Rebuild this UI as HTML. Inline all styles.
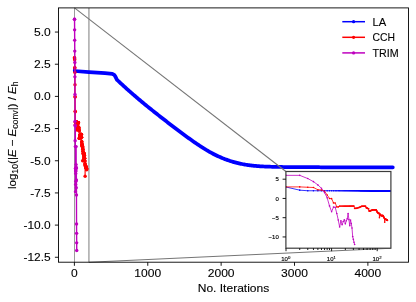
<!DOCTYPE html>
<html><head><meta charset="utf-8"><title>Convergence</title>
<style>
html,body{margin:0;padding:0;background:#fff}
body{width:416px;height:302px;overflow:hidden}
svg{will-change:transform}
svg text{font-family:"Liberation Sans",sans-serif;fill:#000}
.t{font-size:10.7px}
.lg{font-size:10.1px}
.yl{font-size:11px}
.t,.lg{stroke:#000;stroke-width:0.1px}
.s{font-size:8.4px}
.i{font-size:6px;stroke:#000;stroke-width:0.15px}
</style></head><body>
<svg width="416" height="302" viewBox="0 0 416 302" style="display:block">
<rect width="100%" height="100%" fill="#fff"/>
<defs><clipPath id="mc"><rect x="58.50" y="7.90" width="350.00" height="254.30"/></clipPath><clipPath id="ic"><rect x="285.90" y="171.50" width="105.00" height="76.70"/></clipPath></defs>
<line x1="74.50" y1="7.90" x2="74.50" y2="262.20" stroke="#808080" stroke-width="0.8"/>
<line x1="88.90" y1="7.90" x2="88.90" y2="262.20" stroke="#a8a8a8" stroke-width="1.5"/>
<g clip-path="url(#mc)">
<path d="M74.50 58.20 L74.55 69.00 L74.70 71.00" fill="none" stroke="#0000ff" stroke-width="1.1"/>
<circle cx="74.50" cy="58.20" r="1.50" fill="#0000ff"/><circle cx="74.55" cy="69.00" r="1.50" fill="#0000ff"/>
<path d="M74.70 71.00 L89.00 72.10 L105.00 73.20 L112.30 73.80 L114.20 74.80 L115.40 76.60 L117.00 79.80 L118.00 80.75 L119.00 81.69 L120.00 82.63 L121.00 83.56 L122.00 84.48 L123.00 85.40 L124.00 86.32 L125.00 87.23 L126.00 88.13 L127.00 89.03 L128.00 89.92 L129.00 90.81 L130.00 91.69 L131.00 92.57 L132.00 93.45 L133.00 94.32 L134.00 95.18 L135.00 96.04 L136.00 96.90 L137.00 97.76 L138.00 98.61 L139.00 99.45 L140.00 100.29 L141.00 101.13 L142.00 101.97 L143.00 102.80 L144.00 103.62 L145.00 104.44 L146.00 105.26 L147.00 106.08 L148.00 106.89 L149.00 107.69 L150.00 108.49 L151.00 109.29 L152.00 110.09 L153.00 110.89 L154.00 111.68 L155.00 112.48 L156.00 113.27 L157.00 114.06 L158.00 114.85 L159.00 115.63 L160.00 116.42 L161.00 117.20 L162.00 117.99 L163.00 118.77 L164.00 119.55 L165.00 120.33 L166.00 121.10 L167.00 121.88 L168.00 122.65 L169.00 123.42 L170.00 124.19 L171.00 124.96 L172.00 125.73 L173.00 126.49 L174.00 127.25 L175.00 128.01 L176.00 128.77 L177.00 129.52 L178.00 130.27 L179.00 131.02 L180.00 131.77 L181.00 132.51 L182.00 133.25 L183.00 133.99 L184.00 134.73 L185.00 135.46 L186.00 136.19 L187.00 136.92 L188.00 137.65 L189.00 138.37 L190.00 139.09 L191.00 139.81 L192.00 140.52 L193.00 141.22 L194.00 141.92 L195.00 142.61 L196.00 143.29 L197.00 143.97 L198.00 144.64 L199.00 145.30 L200.00 145.96 L201.00 146.61 L202.00 147.25 L203.00 147.89 L204.00 148.52 L205.00 149.14 L206.00 149.76 L207.00 150.36 L208.00 150.95 L209.00 151.53 L210.00 152.09 L211.00 152.65 L212.00 153.19 L213.00 153.72 L214.00 154.24 L215.00 154.74 L216.00 155.24 L217.00 155.72 L218.00 156.19 L219.00 156.65 L220.00 157.09 L221.00 157.53 L222.00 157.95 L223.00 158.36 L224.00 158.76 L225.00 159.14 L226.00 159.52 L227.00 159.88 L228.00 160.24 L229.00 160.58 L230.00 160.91 L231.00 161.23 L232.00 161.54 L233.00 161.83 L234.00 162.12 L235.00 162.39 L236.00 162.66 L237.00 162.91 L238.00 163.16 L239.00 163.39 L240.00 163.62 L241.00 163.83 L242.00 164.04 L243.00 164.23 L244.00 164.42 L245.00 164.59 L246.00 164.76 L247.00 164.92 L248.00 165.07 L249.00 165.21 L250.00 165.34 L251.00 165.47 L252.00 165.59 L253.00 165.70 L254.00 165.80 L255.00 165.89 L256.00 165.98 L257.00 166.06 L258.00 166.14 L259.00 166.21 L260.00 166.28 L261.00 166.34 L262.00 166.40 L263.00 166.45 L264.00 166.50 L265.00 166.54 L266.00 166.58 L267.00 166.62 L268.00 166.66 L269.00 166.69 L270.00 166.72 L271.00 166.75 L272.00 166.78 L273.00 166.81 L274.00 166.84 L275.00 166.86 L276.00 166.88 L277.00 166.90 L278.00 166.92 L279.00 166.94 L280.00 166.96 L281.00 166.97 L282.00 166.99 L283.00 167.00 L284.00 167.01 L285.00 167.03 L286.00 167.04 L287.00 167.05 L288.00 167.06 L289.00 167.07 L290.00 167.08 L291.00 167.09 L292.00 167.10 L293.00 167.11 L294.00 167.12 L295.00 167.13 L296.00 167.13 L297.00 167.14 L298.00 167.15 L299.00 167.15 L300.00 167.16 L301.00 167.16 L302.00 167.17 L303.00 167.17 L304.00 167.18 L305.00 167.18 L306.00 167.19 L307.00 167.19 L308.00 167.20 L309.00 167.20 L310.00 167.20 L311.00 167.21 L312.00 167.21 L313.00 167.22 L314.00 167.22 L315.00 167.23 L316.00 167.23 L317.00 167.23 L318.00 167.24 L319.00 167.24 L320.00 167.25 L321.00 167.25 L322.00 167.25 L323.00 167.26 L324.00 167.26 L325.00 167.27 L326.00 167.27 L327.00 167.27 L328.00 167.28 L329.00 167.28 L330.00 167.28 L331.00 167.29 L332.00 167.29 L333.00 167.29 L334.00 167.30 L335.00 167.30 L336.00 167.30 L337.00 167.30 L338.00 167.30 L339.00 167.30 L340.00 167.30 L341.00 167.30 L342.00 167.30 L343.00 167.30 L344.00 167.30 L345.00 167.30 L346.00 167.30 L347.00 167.30 L348.00 167.30 L349.00 167.30 L350.00 167.30 L351.00 167.30 L352.00 167.30 L353.00 167.30 L354.00 167.30 L355.00 167.30 L356.00 167.30 L357.00 167.30 L358.00 167.30 L359.00 167.30 L360.00 167.30 L361.00 167.30 L362.00 167.30 L363.00 167.30 L364.00 167.30 L365.00 167.30 L366.00 167.30 L367.00 167.30 L368.00 167.30 L369.00 167.30 L370.00 167.30 L371.00 167.30 L372.00 167.30 L373.00 167.30 L374.00 167.30 L375.00 167.30 L376.00 167.30 L377.00 167.30 L378.00 167.30 L379.00 167.30 L380.00 167.30 L381.00 167.30 L382.00 167.30 L383.00 167.30 L384.00 167.30 L385.00 167.30 L386.00 167.30 L387.00 167.30 L388.00 167.30 L389.00 167.30 L390.00 167.30 L391.00 167.30 L392.00 167.30 L392.80 167.30" fill="none" stroke="#0000ff" stroke-width="3.75" stroke-linecap="round" stroke-linejoin="round"/>
<path d="M74.47 57.79 L74.55 57.79 L74.62 59.08 L74.69 59.72 L74.77 67.44 L74.84 68.09 L74.91 72.46 L74.99 84.82 L75.06 96.79 L75.13 97.04 L75.21 111.20 L75.28 111.84 L75.35 124.71 L75.43 124.71 L75.50 122.14 L75.57 122.13 L75.65 122.12 L75.72 122.12 L75.79 122.11 L75.87 122.10 L75.94 122.09 L76.01 122.08 L76.09 122.08 L76.16 122.07 L76.23 122.06 L76.31 122.05 L76.38 122.04 L76.45 122.04 L76.53 122.03 L76.60 122.02 L76.67 122.01 L76.75 129.86 L76.82 129.54 L76.89 129.54 L76.97 129.54 L77.04 128.57 L77.11 128.57 L77.19 128.57 L77.26 126.64 L77.33 126.64 L77.41 126.64 L77.48 124.46 L77.55 124.46 L77.63 124.46 L77.70 122.65 L77.78 122.65 L77.85 122.65 L77.92 122.65 L78.00 122.65 L78.07 122.65 L78.14 122.65 L78.22 122.65 L78.29 122.65 L78.36 122.65 L78.44 122.65 L78.51 122.65 L78.58 127.29 L78.66 127.29 L78.73 127.29 L78.80 129.03 L78.88 129.03 L78.95 129.03 L79.02 130.76 L79.10 130.76 L79.17 130.76 L79.24 138.41 L79.32 138.41 L79.39 138.41 L79.46 137.79 L79.54 137.79 L79.61 137.79 L79.68 136.94 L79.76 136.94 L79.83 136.94 L79.90 135.98 L79.98 135.98 L80.05 135.98 L80.12 135.01 L80.20 135.01 L80.27 135.01 L80.34 134.37 L80.42 134.37 L80.49 134.37 L80.56 134.37 L80.64 134.37 L80.71 134.37 L80.78 134.37 L80.86 134.37 L80.93 134.37 L81.00 134.37 L81.08 134.37 L81.15 134.37 L81.22 134.37 L81.30 134.37 L81.37 134.37 L81.44 137.28 L81.52 137.28 L81.59 137.28 L81.66 141.66 L81.74 141.66 L81.81 141.66 L81.88 143.93 L81.96 143.93 L82.03 143.93 L82.10 145.15 L82.18 145.15 L82.25 145.15 L82.32 146.37 L82.40 146.37 L82.47 146.37 L82.54 147.58 L82.62 160.75 L82.69 147.58 L82.76 149.17 L82.84 149.17 L82.91 149.17 L82.98 151.48 L83.06 151.48 L83.13 151.48 L83.20 153.80 L83.28 153.80 L83.35 153.80 L83.42 153.80 L83.50 153.80 L83.57 153.80 L83.64 153.80 L83.72 153.80 L83.79 153.80 L83.86 153.80 L83.94 153.80 L84.01 153.80 L84.08 153.80 L84.16 153.80 L84.23 153.80 L84.30 155.60 L84.38 155.60 L84.45 155.60 L84.53 158.30 L84.60 158.30 L84.67 158.30 L84.75 161.01 L84.82 161.01 L84.89 161.01 L84.97 163.71 L85.04 163.71 L85.11 176.19 L85.19 165.03 L85.26 165.03 L85.33 165.03 L85.41 165.66 L85.48 165.66 L85.55 165.66 L85.63 166.28 L85.70 166.28 L85.77 166.28 L85.85 166.91 L85.92 166.91 L85.99 166.91 L86.07 167.54 L86.14 167.54 L86.21 167.54 L86.29 168.21 L86.36 168.21 L86.43 168.21 L86.51 168.99 L86.58 168.99 L86.65 168.99 L86.73 169.76" fill="none" stroke="#ff0000" stroke-width="1.1" stroke-linejoin="round"/>
<circle cx="74.47" cy="57.79" r="1.70" fill="#ff0000"/><circle cx="74.55" cy="57.79" r="1.70" fill="#ff0000"/><circle cx="74.62" cy="59.08" r="1.70" fill="#ff0000"/><circle cx="74.69" cy="59.72" r="1.70" fill="#ff0000"/><circle cx="74.77" cy="67.44" r="1.70" fill="#ff0000"/><circle cx="74.84" cy="68.09" r="1.70" fill="#ff0000"/><circle cx="74.91" cy="72.46" r="1.70" fill="#ff0000"/><circle cx="74.99" cy="84.82" r="1.70" fill="#ff0000"/><circle cx="75.06" cy="96.79" r="1.70" fill="#ff0000"/><circle cx="75.13" cy="97.04" r="1.70" fill="#ff0000"/><circle cx="75.21" cy="111.20" r="1.70" fill="#ff0000"/><circle cx="75.28" cy="111.84" r="1.70" fill="#ff0000"/><circle cx="75.35" cy="124.71" r="1.70" fill="#ff0000"/><circle cx="75.43" cy="124.71" r="1.70" fill="#ff0000"/><circle cx="75.50" cy="122.14" r="1.70" fill="#ff0000"/><circle cx="75.57" cy="122.13" r="1.70" fill="#ff0000"/><circle cx="75.65" cy="122.12" r="1.70" fill="#ff0000"/><circle cx="75.72" cy="122.12" r="1.70" fill="#ff0000"/><circle cx="75.79" cy="122.11" r="1.70" fill="#ff0000"/><circle cx="75.87" cy="122.10" r="1.70" fill="#ff0000"/><circle cx="75.94" cy="122.09" r="1.70" fill="#ff0000"/><circle cx="76.01" cy="122.08" r="1.70" fill="#ff0000"/><circle cx="76.09" cy="122.08" r="1.70" fill="#ff0000"/><circle cx="76.16" cy="122.07" r="1.70" fill="#ff0000"/><circle cx="76.23" cy="122.06" r="1.70" fill="#ff0000"/><circle cx="76.31" cy="122.05" r="1.70" fill="#ff0000"/><circle cx="76.38" cy="122.04" r="1.70" fill="#ff0000"/><circle cx="76.45" cy="122.04" r="1.70" fill="#ff0000"/><circle cx="76.53" cy="122.03" r="1.70" fill="#ff0000"/><circle cx="76.60" cy="122.02" r="1.70" fill="#ff0000"/><circle cx="76.67" cy="122.01" r="1.70" fill="#ff0000"/><circle cx="76.75" cy="129.86" r="1.70" fill="#ff0000"/><circle cx="76.82" cy="129.54" r="1.70" fill="#ff0000"/><circle cx="76.89" cy="129.54" r="1.70" fill="#ff0000"/><circle cx="76.97" cy="129.54" r="1.70" fill="#ff0000"/><circle cx="77.04" cy="128.57" r="1.70" fill="#ff0000"/><circle cx="77.11" cy="128.57" r="1.70" fill="#ff0000"/><circle cx="77.19" cy="128.57" r="1.70" fill="#ff0000"/><circle cx="77.26" cy="126.64" r="1.70" fill="#ff0000"/><circle cx="77.33" cy="126.64" r="1.70" fill="#ff0000"/><circle cx="77.41" cy="126.64" r="1.70" fill="#ff0000"/><circle cx="77.48" cy="124.46" r="1.70" fill="#ff0000"/><circle cx="77.55" cy="124.46" r="1.70" fill="#ff0000"/><circle cx="77.63" cy="124.46" r="1.70" fill="#ff0000"/><circle cx="77.70" cy="122.65" r="1.70" fill="#ff0000"/><circle cx="77.78" cy="122.65" r="1.70" fill="#ff0000"/><circle cx="77.85" cy="122.65" r="1.70" fill="#ff0000"/><circle cx="77.92" cy="122.65" r="1.70" fill="#ff0000"/><circle cx="78.00" cy="122.65" r="1.70" fill="#ff0000"/><circle cx="78.07" cy="122.65" r="1.70" fill="#ff0000"/><circle cx="78.14" cy="122.65" r="1.70" fill="#ff0000"/><circle cx="78.22" cy="122.65" r="1.70" fill="#ff0000"/><circle cx="78.29" cy="122.65" r="1.70" fill="#ff0000"/><circle cx="78.36" cy="122.65" r="1.70" fill="#ff0000"/><circle cx="78.44" cy="122.65" r="1.70" fill="#ff0000"/><circle cx="78.51" cy="122.65" r="1.70" fill="#ff0000"/><circle cx="78.58" cy="127.29" r="1.70" fill="#ff0000"/><circle cx="78.66" cy="127.29" r="1.70" fill="#ff0000"/><circle cx="78.73" cy="127.29" r="1.70" fill="#ff0000"/><circle cx="78.80" cy="129.03" r="1.70" fill="#ff0000"/><circle cx="78.88" cy="129.03" r="1.70" fill="#ff0000"/><circle cx="78.95" cy="129.03" r="1.70" fill="#ff0000"/><circle cx="79.02" cy="130.76" r="1.70" fill="#ff0000"/><circle cx="79.10" cy="130.76" r="1.70" fill="#ff0000"/><circle cx="79.17" cy="130.76" r="1.70" fill="#ff0000"/><circle cx="79.24" cy="138.41" r="1.70" fill="#ff0000"/><circle cx="79.32" cy="138.41" r="1.70" fill="#ff0000"/><circle cx="79.39" cy="138.41" r="1.70" fill="#ff0000"/><circle cx="79.46" cy="137.79" r="1.70" fill="#ff0000"/><circle cx="79.54" cy="137.79" r="1.70" fill="#ff0000"/><circle cx="79.61" cy="137.79" r="1.70" fill="#ff0000"/><circle cx="79.68" cy="136.94" r="1.70" fill="#ff0000"/><circle cx="79.76" cy="136.94" r="1.70" fill="#ff0000"/><circle cx="79.83" cy="136.94" r="1.70" fill="#ff0000"/><circle cx="79.90" cy="135.98" r="1.70" fill="#ff0000"/><circle cx="79.98" cy="135.98" r="1.70" fill="#ff0000"/><circle cx="80.05" cy="135.98" r="1.70" fill="#ff0000"/><circle cx="80.12" cy="135.01" r="1.70" fill="#ff0000"/><circle cx="80.20" cy="135.01" r="1.70" fill="#ff0000"/><circle cx="80.27" cy="135.01" r="1.70" fill="#ff0000"/><circle cx="80.34" cy="134.37" r="1.70" fill="#ff0000"/><circle cx="80.42" cy="134.37" r="1.70" fill="#ff0000"/><circle cx="80.49" cy="134.37" r="1.70" fill="#ff0000"/><circle cx="80.56" cy="134.37" r="1.70" fill="#ff0000"/><circle cx="80.64" cy="134.37" r="1.70" fill="#ff0000"/><circle cx="80.71" cy="134.37" r="1.70" fill="#ff0000"/><circle cx="80.78" cy="134.37" r="1.70" fill="#ff0000"/><circle cx="80.86" cy="134.37" r="1.70" fill="#ff0000"/><circle cx="80.93" cy="134.37" r="1.70" fill="#ff0000"/><circle cx="81.00" cy="134.37" r="1.70" fill="#ff0000"/><circle cx="81.08" cy="134.37" r="1.70" fill="#ff0000"/><circle cx="81.15" cy="134.37" r="1.70" fill="#ff0000"/><circle cx="81.22" cy="134.37" r="1.70" fill="#ff0000"/><circle cx="81.30" cy="134.37" r="1.70" fill="#ff0000"/><circle cx="81.37" cy="134.37" r="1.70" fill="#ff0000"/><circle cx="81.44" cy="137.28" r="1.70" fill="#ff0000"/><circle cx="81.52" cy="137.28" r="1.70" fill="#ff0000"/><circle cx="81.59" cy="137.28" r="1.70" fill="#ff0000"/><circle cx="81.66" cy="141.66" r="1.70" fill="#ff0000"/><circle cx="81.74" cy="141.66" r="1.70" fill="#ff0000"/><circle cx="81.81" cy="141.66" r="1.70" fill="#ff0000"/><circle cx="81.88" cy="143.93" r="1.70" fill="#ff0000"/><circle cx="81.96" cy="143.93" r="1.70" fill="#ff0000"/><circle cx="82.03" cy="143.93" r="1.70" fill="#ff0000"/><circle cx="82.10" cy="145.15" r="1.70" fill="#ff0000"/><circle cx="82.18" cy="145.15" r="1.70" fill="#ff0000"/><circle cx="82.25" cy="145.15" r="1.70" fill="#ff0000"/><circle cx="82.32" cy="146.37" r="1.70" fill="#ff0000"/><circle cx="82.40" cy="146.37" r="1.70" fill="#ff0000"/><circle cx="82.47" cy="146.37" r="1.70" fill="#ff0000"/><circle cx="82.54" cy="147.58" r="1.70" fill="#ff0000"/><circle cx="82.62" cy="160.75" r="1.70" fill="#ff0000"/><circle cx="82.69" cy="147.58" r="1.70" fill="#ff0000"/><circle cx="82.76" cy="149.17" r="1.70" fill="#ff0000"/><circle cx="82.84" cy="149.17" r="1.70" fill="#ff0000"/><circle cx="82.91" cy="149.17" r="1.70" fill="#ff0000"/><circle cx="82.98" cy="151.48" r="1.70" fill="#ff0000"/><circle cx="83.06" cy="151.48" r="1.70" fill="#ff0000"/><circle cx="83.13" cy="151.48" r="1.70" fill="#ff0000"/><circle cx="83.20" cy="153.80" r="1.70" fill="#ff0000"/><circle cx="83.28" cy="153.80" r="1.70" fill="#ff0000"/><circle cx="83.35" cy="153.80" r="1.70" fill="#ff0000"/><circle cx="83.42" cy="153.80" r="1.70" fill="#ff0000"/><circle cx="83.50" cy="153.80" r="1.70" fill="#ff0000"/><circle cx="83.57" cy="153.80" r="1.70" fill="#ff0000"/><circle cx="83.64" cy="153.80" r="1.70" fill="#ff0000"/><circle cx="83.72" cy="153.80" r="1.70" fill="#ff0000"/><circle cx="83.79" cy="153.80" r="1.70" fill="#ff0000"/><circle cx="83.86" cy="153.80" r="1.70" fill="#ff0000"/><circle cx="83.94" cy="153.80" r="1.70" fill="#ff0000"/><circle cx="84.01" cy="153.80" r="1.70" fill="#ff0000"/><circle cx="84.08" cy="153.80" r="1.70" fill="#ff0000"/><circle cx="84.16" cy="153.80" r="1.70" fill="#ff0000"/><circle cx="84.23" cy="153.80" r="1.70" fill="#ff0000"/><circle cx="84.30" cy="155.60" r="1.70" fill="#ff0000"/><circle cx="84.38" cy="155.60" r="1.70" fill="#ff0000"/><circle cx="84.45" cy="155.60" r="1.70" fill="#ff0000"/><circle cx="84.53" cy="158.30" r="1.70" fill="#ff0000"/><circle cx="84.60" cy="158.30" r="1.70" fill="#ff0000"/><circle cx="84.67" cy="158.30" r="1.70" fill="#ff0000"/><circle cx="84.75" cy="161.01" r="1.70" fill="#ff0000"/><circle cx="84.82" cy="161.01" r="1.70" fill="#ff0000"/><circle cx="84.89" cy="161.01" r="1.70" fill="#ff0000"/><circle cx="84.97" cy="163.71" r="1.70" fill="#ff0000"/><circle cx="85.04" cy="163.71" r="1.70" fill="#ff0000"/><circle cx="85.11" cy="176.19" r="1.70" fill="#ff0000"/><circle cx="85.19" cy="165.03" r="1.70" fill="#ff0000"/><circle cx="85.26" cy="165.03" r="1.70" fill="#ff0000"/><circle cx="85.33" cy="165.03" r="1.70" fill="#ff0000"/><circle cx="85.41" cy="165.66" r="1.70" fill="#ff0000"/><circle cx="85.48" cy="165.66" r="1.70" fill="#ff0000"/><circle cx="85.55" cy="165.66" r="1.70" fill="#ff0000"/><circle cx="85.63" cy="166.28" r="1.70" fill="#ff0000"/><circle cx="85.70" cy="166.28" r="1.70" fill="#ff0000"/><circle cx="85.77" cy="166.28" r="1.70" fill="#ff0000"/><circle cx="85.85" cy="166.91" r="1.70" fill="#ff0000"/><circle cx="85.92" cy="166.91" r="1.70" fill="#ff0000"/><circle cx="85.99" cy="166.91" r="1.70" fill="#ff0000"/><circle cx="86.07" cy="167.54" r="1.70" fill="#ff0000"/><circle cx="86.14" cy="167.54" r="1.70" fill="#ff0000"/><circle cx="86.21" cy="167.54" r="1.70" fill="#ff0000"/><circle cx="86.29" cy="168.21" r="1.70" fill="#ff0000"/><circle cx="86.36" cy="168.21" r="1.70" fill="#ff0000"/><circle cx="86.43" cy="168.21" r="1.70" fill="#ff0000"/><circle cx="86.51" cy="168.99" r="1.70" fill="#ff0000"/><circle cx="86.58" cy="168.99" r="1.70" fill="#ff0000"/><circle cx="86.65" cy="168.99" r="1.70" fill="#ff0000"/><circle cx="86.73" cy="169.76" r="1.70" fill="#ff0000"/>
<path d="M74.47 19.18 L74.55 19.18 L74.62 29.86 L74.69 40.16 L74.77 51.10 L74.84 62.55 L74.91 76.84 L74.99 94.47 L75.06 121.37 L75.13 140.80 L75.21 125.36 L75.28 126.00 L75.35 146.59 L75.43 168.47 L75.50 191.64 L75.57 171.05 L75.65 184.56 L75.72 173.62 L75.79 167.83 L75.87 181.34 L75.94 171.05 L76.01 164.61 L76.09 146.59 L76.16 167.19 L76.23 187.78 L76.31 168.47 L76.38 180.06 L76.45 194.98 L76.53 223.94 L76.60 233.34 L76.67 242.86 L76.75 250.45" fill="none" stroke="#bf00bf" stroke-width="1.4" stroke-linejoin="round"/>
<circle cx="74.47" cy="19.18" r="1.70" fill="#bf00bf"/><circle cx="74.55" cy="19.18" r="1.70" fill="#bf00bf"/><circle cx="74.62" cy="29.86" r="1.70" fill="#bf00bf"/><circle cx="74.69" cy="40.16" r="1.70" fill="#bf00bf"/><circle cx="74.77" cy="51.10" r="1.70" fill="#bf00bf"/><circle cx="74.84" cy="62.55" r="1.70" fill="#bf00bf"/><circle cx="74.91" cy="76.84" r="1.70" fill="#bf00bf"/><circle cx="74.99" cy="94.47" r="1.70" fill="#bf00bf"/><circle cx="75.06" cy="121.37" r="1.70" fill="#bf00bf"/><circle cx="75.13" cy="140.80" r="1.70" fill="#bf00bf"/><circle cx="75.21" cy="125.36" r="1.70" fill="#bf00bf"/><circle cx="75.28" cy="126.00" r="1.70" fill="#bf00bf"/><circle cx="75.35" cy="146.59" r="1.70" fill="#bf00bf"/><circle cx="75.43" cy="168.47" r="1.70" fill="#bf00bf"/><circle cx="75.50" cy="191.64" r="1.70" fill="#bf00bf"/><circle cx="75.57" cy="171.05" r="1.70" fill="#bf00bf"/><circle cx="75.65" cy="184.56" r="1.70" fill="#bf00bf"/><circle cx="75.72" cy="173.62" r="1.70" fill="#bf00bf"/><circle cx="75.79" cy="167.83" r="1.70" fill="#bf00bf"/><circle cx="75.87" cy="181.34" r="1.70" fill="#bf00bf"/><circle cx="75.94" cy="171.05" r="1.70" fill="#bf00bf"/><circle cx="76.01" cy="164.61" r="1.70" fill="#bf00bf"/><circle cx="76.09" cy="146.59" r="1.70" fill="#bf00bf"/><circle cx="76.16" cy="167.19" r="1.70" fill="#bf00bf"/><circle cx="76.23" cy="187.78" r="1.70" fill="#bf00bf"/><circle cx="76.31" cy="168.47" r="1.70" fill="#bf00bf"/><circle cx="76.38" cy="180.06" r="1.70" fill="#bf00bf"/><circle cx="76.45" cy="194.98" r="1.70" fill="#bf00bf"/><circle cx="76.53" cy="223.94" r="1.70" fill="#bf00bf"/><circle cx="76.60" cy="233.34" r="1.70" fill="#bf00bf"/><circle cx="76.67" cy="242.86" r="1.70" fill="#bf00bf"/><circle cx="76.75" cy="250.45" r="1.70" fill="#bf00bf"/>
</g>
<line x1="74.50" y1="7.90" x2="285.90" y2="171.50" stroke="#757575" stroke-width="1.05"/>
<line x1="88.90" y1="262.20" x2="390.90" y2="248.20" stroke="#757575" stroke-width="1.05"/>
<rect x="58.50" y="7.90" width="350.00" height="254.30" fill="none" stroke="#000" stroke-width="0.9"/>
<line x1="74.40" y1="262.20" x2="74.40" y2="265.80" stroke="#000" stroke-width="0.9"/>
<text x="74.40" y="277.4" text-anchor="middle" class="t" textLength="6.70" lengthAdjust="spacingAndGlyphs">0</text>
<line x1="147.77" y1="262.20" x2="147.77" y2="265.80" stroke="#000" stroke-width="0.9"/>
<text x="147.77" y="277.4" text-anchor="middle" class="t" textLength="26.80" lengthAdjust="spacingAndGlyphs">1000</text>
<line x1="221.14" y1="262.20" x2="221.14" y2="265.80" stroke="#000" stroke-width="0.9"/>
<text x="221.14" y="277.4" text-anchor="middle" class="t" textLength="26.80" lengthAdjust="spacingAndGlyphs">2000</text>
<line x1="294.51" y1="262.20" x2="294.51" y2="265.80" stroke="#000" stroke-width="0.9"/>
<text x="294.51" y="277.4" text-anchor="middle" class="t" textLength="26.80" lengthAdjust="spacingAndGlyphs">3000</text>
<line x1="367.88" y1="262.20" x2="367.88" y2="265.80" stroke="#000" stroke-width="0.9"/>
<text x="367.88" y="277.4" text-anchor="middle" class="t" textLength="26.80" lengthAdjust="spacingAndGlyphs">4000</text>
<line x1="54.90" y1="32.05" x2="58.50" y2="32.05" stroke="#000" stroke-width="0.9"/>
<text x="50.7" y="35.85" text-anchor="end" class="t" textLength="16.70" lengthAdjust="spacingAndGlyphs">5.0</text>
<line x1="54.90" y1="64.23" x2="58.50" y2="64.23" stroke="#000" stroke-width="0.9"/>
<text x="50.7" y="68.03" text-anchor="end" class="t" textLength="16.70" lengthAdjust="spacingAndGlyphs">2.5</text>
<line x1="54.90" y1="96.40" x2="58.50" y2="96.40" stroke="#000" stroke-width="0.9"/>
<text x="50.7" y="100.20" text-anchor="end" class="t" textLength="16.70" lengthAdjust="spacingAndGlyphs">0.0</text>
<line x1="54.90" y1="128.57" x2="58.50" y2="128.57" stroke="#000" stroke-width="0.9"/>
<text x="50.7" y="132.38" text-anchor="end" class="t" textLength="20.50" lengthAdjust="spacingAndGlyphs">-2.5</text>
<line x1="54.90" y1="160.75" x2="58.50" y2="160.75" stroke="#000" stroke-width="0.9"/>
<text x="50.7" y="164.55" text-anchor="end" class="t" textLength="20.50" lengthAdjust="spacingAndGlyphs">-5.0</text>
<line x1="54.90" y1="192.93" x2="58.50" y2="192.93" stroke="#000" stroke-width="0.9"/>
<text x="50.7" y="196.73" text-anchor="end" class="t" textLength="20.50" lengthAdjust="spacingAndGlyphs">-7.5</text>
<line x1="54.90" y1="225.10" x2="58.50" y2="225.10" stroke="#000" stroke-width="0.9"/>
<text x="50.7" y="228.90" text-anchor="end" class="t" textLength="27.20" lengthAdjust="spacingAndGlyphs">-10.0</text>
<line x1="54.90" y1="257.27" x2="58.50" y2="257.27" stroke="#000" stroke-width="0.9"/>
<text x="50.7" y="261.07" text-anchor="end" class="t" textLength="27.20" lengthAdjust="spacingAndGlyphs">-12.5</text>
<text x="233.5" y="291.8" text-anchor="middle" class="t" textLength="71.6" lengthAdjust="spacingAndGlyphs">No. Iterations</text>
<text transform="translate(16.2 135.2) rotate(-90)" text-anchor="middle" class="t yl" textLength="107.5" lengthAdjust="spacingAndGlyphs">log<tspan class="s" dy="2">10</tspan><tspan dy="-2">(|</tspan><tspan font-style="italic">E</tspan> − <tspan font-style="italic">E</tspan><tspan class="s" dy="2">conv</tspan><tspan dy="-2">|) / </tspan><tspan font-style="italic">E</tspan><tspan class="s" dy="2">h</tspan></text>
<line x1="342.3" y1="21.70" x2="365" y2="21.70" stroke="#0000ff" stroke-width="1.5"/>
<circle cx="353.6" cy="21.70" r="1.6" fill="#0000ff"/>
<text x="372.5" y="25.65" class="lg" textLength="13.7" lengthAdjust="spacingAndGlyphs">LA</text>
<line x1="342.3" y1="37.30" x2="365" y2="37.30" stroke="#ff0000" stroke-width="1.5"/>
<circle cx="353.6" cy="37.30" r="1.6" fill="#ff0000"/>
<text x="372.5" y="41.25" class="lg" textLength="22.5" lengthAdjust="spacingAndGlyphs">CCH</text>
<line x1="342.3" y1="52.90" x2="365" y2="52.90" stroke="#bf00bf" stroke-width="1.5"/>
<circle cx="353.6" cy="52.90" r="1.6" fill="#bf00bf"/>
<text x="372.5" y="56.85" class="lg" textLength="26.2" lengthAdjust="spacingAndGlyphs">TRIM</text>
<rect x="285.90" y="171.50" width="105.00" height="76.70" fill="#fff"/>
<g clip-path="url(#ic)">
<path d="M286.00 187.02 L299.73 190.17 L307.76 190.75 L313.45 190.75 L317.87 190.75 L321.48 190.76 L324.54 190.76 L327.18 190.76 L329.51 190.76 L331.60 190.76 L333.49 190.77 L335.21 190.77 L336.80 190.77 L338.26 190.77 L339.63 190.77 L340.91 190.78 L342.11 190.78 L343.24 190.78 L344.31 190.78 L345.33 190.78 L346.29 190.78 L347.21 190.79 L348.09 190.79 L348.94 190.79 L349.75 190.79 L350.52 190.79 L351.27 190.80 L351.99 190.80 L352.69 190.80 L353.36 190.80 L354.01 190.80 L354.63 190.81 L355.24 190.81 L355.84 190.81 L356.41 190.81 L356.97 190.81 L357.51 190.82 L358.04 190.82 L358.55 190.82 L359.05 190.82 L359.54 190.82 L360.02 190.83 L360.49 190.83 L360.94 190.83 L361.39 190.83 L361.82 190.83 L362.25 190.83 L362.66 190.84 L363.07 190.84 L363.47 190.84 L363.87 190.84 L364.25 190.84 L364.63 190.85 L365.00 190.85 L365.36 190.85 L365.72 190.85 L366.07 190.85 L366.41 190.86 L366.75 190.86 L367.08 190.86 L367.41 190.86 L367.73 190.86 L368.05 190.87 L368.36 190.87 L368.67 190.87 L368.97 190.87 L369.27 190.87 L369.56 190.88 L369.85 190.88 L370.14 190.88 L370.42 190.88 L370.69 190.88 L370.97 190.88 L371.24 190.89 L371.50 190.89 L371.77 190.89 L372.02 190.89 L372.28 190.89 L372.53 190.90 L372.78 190.90 L373.03 190.90 L373.27 190.90 L373.51 190.90 L373.75 190.91 L373.98 190.91 L374.21 190.91 L374.44 190.91 L374.67 190.91 L374.89 190.92 L375.11 190.92 L375.33 190.92 L375.55 190.92 L375.76 190.92 L375.97 190.93 L376.18 190.93 L376.39 190.93 L376.60 190.93 L376.80 190.93 L377.00 190.93 L377.20 190.94 L377.40 190.94 L377.59 190.94 L377.79 190.94 L377.98 190.94 L378.17 190.95 L378.35 190.95 L378.54 190.95 L378.72 190.95 L378.91 190.95 L379.09 190.96 L379.27 190.96 L379.44 190.96 L379.62 190.96 L379.79 190.96 L379.97 190.97 L380.14 190.97 L380.31 190.97 L380.48 190.97 L380.64 190.97 L380.81 190.98 L380.98 190.98 L381.14 190.98 L381.30 190.98 L381.46 190.98 L381.62 190.98 L381.78 190.99 L381.93 190.99 L382.09 190.99 L382.24 190.99 L382.40 190.99 L382.55 191.00 L382.70 191.00 L382.85 191.00 L383.00 191.00 L383.14 191.00 L383.29 191.01 L383.43 191.01 L383.58 191.01 L383.72 191.01 L383.86 191.01 L384.00 191.02 L384.14 191.02 L384.28 191.02 L384.42 191.02 L384.56 191.02 L384.69 191.03 L384.83 191.03 L384.96 191.03 L385.10 191.03 L385.23 191.03 L385.36 191.03 L385.49 191.04 L385.62 191.04 L385.75 191.04 L385.88 191.04 L386.01 191.04 L386.13 191.05 L386.26 191.05 L386.38 191.05 L386.51 191.05 L386.63 191.05 L386.75 191.06 L386.88 191.06 L387.00 191.06 L387.12 191.06 L387.24 191.06 L387.36 191.07 L387.47 191.07 L387.59 191.07 L387.71 191.07 L387.82 191.07 L387.94 191.08 L388.05 191.08 L388.17 191.08 L388.28 191.08 L388.40 191.08 L388.51 191.08 L388.62 191.09 L388.73 191.09 L388.84 191.09 L388.95 191.09 L389.06 191.09 L389.17 191.10 L389.28 191.10 L389.38 191.10 L389.49 191.10 L389.60 191.10 L389.70 191.11 L389.81 191.11 L389.91 191.11 L390.02 191.11 L390.12 191.11 L390.22 191.12 L390.32 191.12 L390.43 191.12 L390.53 191.12 L390.63 191.12 L390.73 191.13 L390.83 191.13" fill="none" stroke="#0000ff" stroke-width="0.8"/>
<circle cx="286.00" cy="187.02" r="0.80" fill="#0000ff"/><circle cx="299.73" cy="190.17" r="0.80" fill="#0000ff"/><circle cx="307.76" cy="190.75" r="0.80" fill="#0000ff"/><circle cx="313.45" cy="190.75" r="0.80" fill="#0000ff"/><circle cx="317.87" cy="190.75" r="0.80" fill="#0000ff"/><circle cx="321.48" cy="190.76" r="0.80" fill="#0000ff"/><circle cx="324.54" cy="190.76" r="0.80" fill="#0000ff"/><circle cx="327.18" cy="190.76" r="0.80" fill="#0000ff"/><circle cx="329.51" cy="190.76" r="0.80" fill="#0000ff"/><circle cx="331.60" cy="190.76" r="0.80" fill="#0000ff"/><circle cx="333.49" cy="190.77" r="0.80" fill="#0000ff"/><circle cx="335.21" cy="190.77" r="0.80" fill="#0000ff"/><circle cx="336.80" cy="190.77" r="0.80" fill="#0000ff"/><circle cx="338.26" cy="190.77" r="0.80" fill="#0000ff"/><circle cx="339.63" cy="190.77" r="0.80" fill="#0000ff"/><circle cx="340.91" cy="190.78" r="0.80" fill="#0000ff"/><circle cx="342.11" cy="190.78" r="0.80" fill="#0000ff"/><circle cx="343.24" cy="190.78" r="0.80" fill="#0000ff"/><circle cx="344.31" cy="190.78" r="0.80" fill="#0000ff"/><circle cx="345.33" cy="190.78" r="0.80" fill="#0000ff"/><circle cx="346.29" cy="190.78" r="0.80" fill="#0000ff"/><circle cx="347.21" cy="190.79" r="0.80" fill="#0000ff"/><circle cx="348.09" cy="190.79" r="0.80" fill="#0000ff"/><circle cx="348.94" cy="190.79" r="0.80" fill="#0000ff"/><circle cx="349.75" cy="190.79" r="0.80" fill="#0000ff"/><circle cx="350.52" cy="190.79" r="0.80" fill="#0000ff"/><circle cx="351.27" cy="190.80" r="0.80" fill="#0000ff"/><circle cx="351.99" cy="190.80" r="0.80" fill="#0000ff"/><circle cx="352.69" cy="190.80" r="0.80" fill="#0000ff"/><circle cx="353.36" cy="190.80" r="0.80" fill="#0000ff"/><circle cx="354.01" cy="190.80" r="0.80" fill="#0000ff"/><circle cx="354.63" cy="190.81" r="0.80" fill="#0000ff"/><circle cx="355.24" cy="190.81" r="0.80" fill="#0000ff"/><circle cx="355.84" cy="190.81" r="0.80" fill="#0000ff"/><circle cx="356.41" cy="190.81" r="0.80" fill="#0000ff"/><circle cx="356.97" cy="190.81" r="0.80" fill="#0000ff"/><circle cx="357.51" cy="190.82" r="0.80" fill="#0000ff"/><circle cx="358.04" cy="190.82" r="0.80" fill="#0000ff"/><circle cx="358.55" cy="190.82" r="0.80" fill="#0000ff"/><circle cx="359.05" cy="190.82" r="0.80" fill="#0000ff"/><circle cx="359.54" cy="190.82" r="0.80" fill="#0000ff"/><circle cx="360.02" cy="190.83" r="0.80" fill="#0000ff"/><circle cx="360.49" cy="190.83" r="0.80" fill="#0000ff"/><circle cx="360.94" cy="190.83" r="0.80" fill="#0000ff"/><circle cx="361.39" cy="190.83" r="0.80" fill="#0000ff"/><circle cx="361.82" cy="190.83" r="0.80" fill="#0000ff"/><circle cx="362.25" cy="190.83" r="0.80" fill="#0000ff"/><circle cx="362.66" cy="190.84" r="0.80" fill="#0000ff"/><circle cx="363.07" cy="190.84" r="0.80" fill="#0000ff"/><circle cx="363.47" cy="190.84" r="0.80" fill="#0000ff"/><circle cx="363.87" cy="190.84" r="0.80" fill="#0000ff"/><circle cx="364.25" cy="190.84" r="0.80" fill="#0000ff"/><circle cx="364.63" cy="190.85" r="0.80" fill="#0000ff"/><circle cx="365.00" cy="190.85" r="0.80" fill="#0000ff"/><circle cx="365.36" cy="190.85" r="0.80" fill="#0000ff"/><circle cx="365.72" cy="190.85" r="0.80" fill="#0000ff"/><circle cx="366.07" cy="190.85" r="0.80" fill="#0000ff"/><circle cx="366.41" cy="190.86" r="0.80" fill="#0000ff"/><circle cx="366.75" cy="190.86" r="0.80" fill="#0000ff"/><circle cx="367.08" cy="190.86" r="0.80" fill="#0000ff"/><circle cx="367.41" cy="190.86" r="0.80" fill="#0000ff"/><circle cx="367.73" cy="190.86" r="0.80" fill="#0000ff"/><circle cx="368.05" cy="190.87" r="0.80" fill="#0000ff"/><circle cx="368.36" cy="190.87" r="0.80" fill="#0000ff"/><circle cx="368.67" cy="190.87" r="0.80" fill="#0000ff"/><circle cx="368.97" cy="190.87" r="0.80" fill="#0000ff"/><circle cx="369.27" cy="190.87" r="0.80" fill="#0000ff"/><circle cx="369.56" cy="190.88" r="0.80" fill="#0000ff"/><circle cx="369.85" cy="190.88" r="0.80" fill="#0000ff"/><circle cx="370.14" cy="190.88" r="0.80" fill="#0000ff"/><circle cx="370.42" cy="190.88" r="0.80" fill="#0000ff"/><circle cx="370.69" cy="190.88" r="0.80" fill="#0000ff"/><circle cx="370.97" cy="190.88" r="0.80" fill="#0000ff"/><circle cx="371.24" cy="190.89" r="0.80" fill="#0000ff"/><circle cx="371.50" cy="190.89" r="0.80" fill="#0000ff"/><circle cx="371.77" cy="190.89" r="0.80" fill="#0000ff"/><circle cx="372.02" cy="190.89" r="0.80" fill="#0000ff"/><circle cx="372.28" cy="190.89" r="0.80" fill="#0000ff"/><circle cx="372.53" cy="190.90" r="0.80" fill="#0000ff"/><circle cx="372.78" cy="190.90" r="0.80" fill="#0000ff"/><circle cx="373.03" cy="190.90" r="0.80" fill="#0000ff"/><circle cx="373.27" cy="190.90" r="0.80" fill="#0000ff"/><circle cx="373.51" cy="190.90" r="0.80" fill="#0000ff"/><circle cx="373.75" cy="190.91" r="0.80" fill="#0000ff"/><circle cx="373.98" cy="190.91" r="0.80" fill="#0000ff"/><circle cx="374.21" cy="190.91" r="0.80" fill="#0000ff"/><circle cx="374.44" cy="190.91" r="0.80" fill="#0000ff"/><circle cx="374.67" cy="190.91" r="0.80" fill="#0000ff"/><circle cx="374.89" cy="190.92" r="0.80" fill="#0000ff"/><circle cx="375.11" cy="190.92" r="0.80" fill="#0000ff"/><circle cx="375.33" cy="190.92" r="0.80" fill="#0000ff"/><circle cx="375.55" cy="190.92" r="0.80" fill="#0000ff"/><circle cx="375.76" cy="190.92" r="0.80" fill="#0000ff"/><circle cx="375.97" cy="190.93" r="0.80" fill="#0000ff"/><circle cx="376.18" cy="190.93" r="0.80" fill="#0000ff"/><circle cx="376.39" cy="190.93" r="0.80" fill="#0000ff"/><circle cx="376.60" cy="190.93" r="0.80" fill="#0000ff"/><circle cx="376.80" cy="190.93" r="0.80" fill="#0000ff"/><circle cx="377.00" cy="190.93" r="0.80" fill="#0000ff"/><circle cx="377.20" cy="190.94" r="0.80" fill="#0000ff"/><circle cx="377.40" cy="190.94" r="0.80" fill="#0000ff"/><circle cx="377.59" cy="190.94" r="0.80" fill="#0000ff"/><circle cx="377.79" cy="190.94" r="0.80" fill="#0000ff"/><circle cx="377.98" cy="190.94" r="0.80" fill="#0000ff"/><circle cx="378.17" cy="190.95" r="0.80" fill="#0000ff"/><circle cx="378.35" cy="190.95" r="0.80" fill="#0000ff"/><circle cx="378.54" cy="190.95" r="0.80" fill="#0000ff"/><circle cx="378.72" cy="190.95" r="0.80" fill="#0000ff"/><circle cx="378.91" cy="190.95" r="0.80" fill="#0000ff"/><circle cx="379.09" cy="190.96" r="0.80" fill="#0000ff"/><circle cx="379.27" cy="190.96" r="0.80" fill="#0000ff"/><circle cx="379.44" cy="190.96" r="0.80" fill="#0000ff"/><circle cx="379.62" cy="190.96" r="0.80" fill="#0000ff"/><circle cx="379.79" cy="190.96" r="0.80" fill="#0000ff"/><circle cx="379.97" cy="190.97" r="0.80" fill="#0000ff"/><circle cx="380.14" cy="190.97" r="0.80" fill="#0000ff"/><circle cx="380.31" cy="190.97" r="0.80" fill="#0000ff"/><circle cx="380.48" cy="190.97" r="0.80" fill="#0000ff"/><circle cx="380.64" cy="190.97" r="0.80" fill="#0000ff"/><circle cx="380.81" cy="190.98" r="0.80" fill="#0000ff"/><circle cx="380.98" cy="190.98" r="0.80" fill="#0000ff"/><circle cx="381.14" cy="190.98" r="0.80" fill="#0000ff"/><circle cx="381.30" cy="190.98" r="0.80" fill="#0000ff"/><circle cx="381.46" cy="190.98" r="0.80" fill="#0000ff"/><circle cx="381.62" cy="190.98" r="0.80" fill="#0000ff"/><circle cx="381.78" cy="190.99" r="0.80" fill="#0000ff"/><circle cx="381.93" cy="190.99" r="0.80" fill="#0000ff"/><circle cx="382.09" cy="190.99" r="0.80" fill="#0000ff"/><circle cx="382.24" cy="190.99" r="0.80" fill="#0000ff"/><circle cx="382.40" cy="190.99" r="0.80" fill="#0000ff"/><circle cx="382.55" cy="191.00" r="0.80" fill="#0000ff"/><circle cx="382.70" cy="191.00" r="0.80" fill="#0000ff"/><circle cx="382.85" cy="191.00" r="0.80" fill="#0000ff"/><circle cx="383.00" cy="191.00" r="0.80" fill="#0000ff"/><circle cx="383.14" cy="191.00" r="0.80" fill="#0000ff"/><circle cx="383.29" cy="191.01" r="0.80" fill="#0000ff"/><circle cx="383.43" cy="191.01" r="0.80" fill="#0000ff"/><circle cx="383.58" cy="191.01" r="0.80" fill="#0000ff"/><circle cx="383.72" cy="191.01" r="0.80" fill="#0000ff"/><circle cx="383.86" cy="191.01" r="0.80" fill="#0000ff"/><circle cx="384.00" cy="191.02" r="0.80" fill="#0000ff"/><circle cx="384.14" cy="191.02" r="0.80" fill="#0000ff"/><circle cx="384.28" cy="191.02" r="0.80" fill="#0000ff"/><circle cx="384.42" cy="191.02" r="0.80" fill="#0000ff"/><circle cx="384.56" cy="191.02" r="0.80" fill="#0000ff"/><circle cx="384.69" cy="191.03" r="0.80" fill="#0000ff"/><circle cx="384.83" cy="191.03" r="0.80" fill="#0000ff"/><circle cx="384.96" cy="191.03" r="0.80" fill="#0000ff"/><circle cx="385.10" cy="191.03" r="0.80" fill="#0000ff"/><circle cx="385.23" cy="191.03" r="0.80" fill="#0000ff"/><circle cx="385.36" cy="191.03" r="0.80" fill="#0000ff"/><circle cx="385.49" cy="191.04" r="0.80" fill="#0000ff"/><circle cx="385.62" cy="191.04" r="0.80" fill="#0000ff"/><circle cx="385.75" cy="191.04" r="0.80" fill="#0000ff"/><circle cx="385.88" cy="191.04" r="0.80" fill="#0000ff"/><circle cx="386.01" cy="191.04" r="0.80" fill="#0000ff"/><circle cx="386.13" cy="191.05" r="0.80" fill="#0000ff"/><circle cx="386.26" cy="191.05" r="0.80" fill="#0000ff"/><circle cx="386.38" cy="191.05" r="0.80" fill="#0000ff"/><circle cx="386.51" cy="191.05" r="0.80" fill="#0000ff"/><circle cx="386.63" cy="191.05" r="0.80" fill="#0000ff"/><circle cx="386.75" cy="191.06" r="0.80" fill="#0000ff"/><circle cx="386.88" cy="191.06" r="0.80" fill="#0000ff"/><circle cx="387.00" cy="191.06" r="0.80" fill="#0000ff"/><circle cx="387.12" cy="191.06" r="0.80" fill="#0000ff"/><circle cx="387.24" cy="191.06" r="0.80" fill="#0000ff"/><circle cx="387.36" cy="191.07" r="0.80" fill="#0000ff"/><circle cx="387.47" cy="191.07" r="0.80" fill="#0000ff"/><circle cx="387.59" cy="191.07" r="0.80" fill="#0000ff"/><circle cx="387.71" cy="191.07" r="0.80" fill="#0000ff"/><circle cx="387.82" cy="191.07" r="0.80" fill="#0000ff"/><circle cx="387.94" cy="191.08" r="0.80" fill="#0000ff"/><circle cx="388.05" cy="191.08" r="0.80" fill="#0000ff"/><circle cx="388.17" cy="191.08" r="0.80" fill="#0000ff"/><circle cx="388.28" cy="191.08" r="0.80" fill="#0000ff"/><circle cx="388.40" cy="191.08" r="0.80" fill="#0000ff"/><circle cx="388.51" cy="191.08" r="0.80" fill="#0000ff"/><circle cx="388.62" cy="191.09" r="0.80" fill="#0000ff"/><circle cx="388.73" cy="191.09" r="0.80" fill="#0000ff"/><circle cx="388.84" cy="191.09" r="0.80" fill="#0000ff"/><circle cx="388.95" cy="191.09" r="0.80" fill="#0000ff"/><circle cx="389.06" cy="191.09" r="0.80" fill="#0000ff"/><circle cx="389.17" cy="191.10" r="0.80" fill="#0000ff"/><circle cx="389.28" cy="191.10" r="0.80" fill="#0000ff"/><circle cx="389.38" cy="191.10" r="0.80" fill="#0000ff"/><circle cx="389.49" cy="191.10" r="0.80" fill="#0000ff"/><circle cx="389.60" cy="191.10" r="0.80" fill="#0000ff"/><circle cx="389.70" cy="191.11" r="0.80" fill="#0000ff"/><circle cx="389.81" cy="191.11" r="0.80" fill="#0000ff"/><circle cx="389.91" cy="191.11" r="0.80" fill="#0000ff"/><circle cx="390.02" cy="191.11" r="0.80" fill="#0000ff"/><circle cx="390.12" cy="191.11" r="0.80" fill="#0000ff"/><circle cx="390.22" cy="191.12" r="0.80" fill="#0000ff"/><circle cx="390.32" cy="191.12" r="0.80" fill="#0000ff"/><circle cx="390.43" cy="191.12" r="0.80" fill="#0000ff"/><circle cx="390.53" cy="191.12" r="0.80" fill="#0000ff"/><circle cx="390.63" cy="191.12" r="0.80" fill="#0000ff"/><circle cx="390.73" cy="191.13" r="0.80" fill="#0000ff"/><circle cx="390.83" cy="191.13" r="0.80" fill="#0000ff"/>
<path d="M286.00 186.90 L299.73 186.90 L307.76 187.28 L313.45 187.48 L317.87 189.79 L321.48 189.98 L324.54 191.29 L327.18 194.98 L329.51 198.57 L331.60 198.64 L333.49 202.88 L335.21 203.07 L336.80 206.92 L338.26 206.92 L339.63 206.15 L340.91 206.15 L342.11 206.15 L343.24 206.14 L344.31 206.14 L345.33 206.14 L346.29 206.14 L347.21 206.13 L348.09 206.13 L348.94 206.13 L349.75 206.13 L350.52 206.12 L351.27 206.12 L351.99 206.12 L352.69 206.12 L353.36 206.11 L354.01 206.11 L354.63 208.46 L355.24 208.36 L355.84 208.36 L356.41 208.36 L356.97 208.07 L357.51 208.07 L358.04 208.07 L358.55 207.50 L359.05 207.50 L359.54 207.50 L360.02 206.84 L360.49 206.84 L360.94 206.84 L361.39 206.30 L361.82 206.30 L362.25 206.30 L362.66 206.30 L363.07 206.30 L363.47 206.30 L363.87 206.30 L364.25 206.30 L364.63 206.30 L365.00 206.30 L365.36 206.30 L365.72 206.30 L366.07 207.69 L366.41 207.69 L366.75 207.69 L367.08 208.21 L367.41 208.21 L367.73 208.21 L368.05 208.73 L368.36 208.73 L368.67 208.73 L368.97 211.02 L369.27 211.02 L369.56 211.02 L369.85 210.83 L370.14 210.83 L370.42 210.83 L370.69 210.58 L370.97 210.58 L371.24 210.58 L371.50 210.29 L371.77 210.29 L372.02 210.29 L372.28 210.00 L372.53 210.00 L372.78 210.00 L373.03 209.81 L373.27 209.81 L373.51 209.81 L373.75 209.81 L373.98 209.81 L374.21 209.81 L374.44 209.81 L374.67 209.81 L374.89 209.81 L375.11 209.81 L375.33 209.81 L375.55 209.81 L375.76 209.81 L375.97 209.81 L376.18 209.81 L376.39 210.68 L376.60 210.68 L376.80 210.68 L377.00 211.99 L377.20 211.99 L377.40 211.99 L377.59 212.67 L377.79 212.67 L377.98 212.67 L378.17 213.03 L378.35 213.03 L378.54 213.03 L378.72 213.40 L378.91 213.40 L379.09 213.40 L379.27 213.76 L379.44 217.70 L379.62 213.76 L379.79 214.23 L379.97 214.23 L380.14 214.23 L380.31 214.93 L380.48 214.93 L380.64 214.93 L380.81 215.62 L380.98 215.62 L381.14 215.62 L381.30 215.62 L381.46 215.62 L381.62 215.62 L381.78 215.62 L381.93 215.62 L382.09 215.62 L382.24 215.62 L382.40 215.62 L382.55 215.62 L382.70 215.62 L382.85 215.62 L383.00 215.62 L383.14 216.16 L383.29 216.16 L383.43 216.16 L383.58 216.97 L383.72 216.97 L383.86 216.97 L384.00 217.78 L384.14 217.78 L384.28 217.78 L384.42 218.59 L384.56 218.59 L384.69 222.32 L384.83 218.98 L384.96 218.98 L385.10 218.98 L385.23 219.17 L385.36 219.17 L385.49 219.17 L385.62 219.36 L385.75 219.36 L385.88 219.36 L386.01 219.54 L386.13 219.54 L386.26 219.54 L386.38 219.73 L386.51 219.73 L386.63 219.73 L386.75 219.93 L386.88 219.93 L387.00 219.93 L387.12 220.16 L387.24 220.16 L387.36 220.16 L387.47 220.39" fill="none" stroke="#ff0000" stroke-width="0.8"/>
<circle cx="286.00" cy="186.90" r="0.80" fill="#ff0000"/><circle cx="299.73" cy="186.90" r="0.80" fill="#ff0000"/><circle cx="307.76" cy="187.28" r="0.80" fill="#ff0000"/><circle cx="313.45" cy="187.48" r="0.80" fill="#ff0000"/><circle cx="317.87" cy="189.79" r="0.80" fill="#ff0000"/><circle cx="321.48" cy="189.98" r="0.80" fill="#ff0000"/><circle cx="324.54" cy="191.29" r="0.80" fill="#ff0000"/><circle cx="327.18" cy="194.98" r="0.80" fill="#ff0000"/><circle cx="329.51" cy="198.57" r="0.80" fill="#ff0000"/><circle cx="331.60" cy="198.64" r="0.80" fill="#ff0000"/><circle cx="333.49" cy="202.88" r="0.80" fill="#ff0000"/><circle cx="335.21" cy="203.07" r="0.80" fill="#ff0000"/><circle cx="336.80" cy="206.92" r="0.80" fill="#ff0000"/><circle cx="338.26" cy="206.92" r="0.80" fill="#ff0000"/><circle cx="339.63" cy="206.15" r="0.80" fill="#ff0000"/><circle cx="340.91" cy="206.15" r="0.80" fill="#ff0000"/><circle cx="342.11" cy="206.15" r="0.80" fill="#ff0000"/><circle cx="343.24" cy="206.14" r="0.80" fill="#ff0000"/><circle cx="344.31" cy="206.14" r="0.80" fill="#ff0000"/><circle cx="345.33" cy="206.14" r="0.80" fill="#ff0000"/><circle cx="346.29" cy="206.14" r="0.80" fill="#ff0000"/><circle cx="347.21" cy="206.13" r="0.80" fill="#ff0000"/><circle cx="348.09" cy="206.13" r="0.80" fill="#ff0000"/><circle cx="348.94" cy="206.13" r="0.80" fill="#ff0000"/><circle cx="349.75" cy="206.13" r="0.80" fill="#ff0000"/><circle cx="350.52" cy="206.12" r="0.80" fill="#ff0000"/><circle cx="351.27" cy="206.12" r="0.80" fill="#ff0000"/><circle cx="351.99" cy="206.12" r="0.80" fill="#ff0000"/><circle cx="352.69" cy="206.12" r="0.80" fill="#ff0000"/><circle cx="353.36" cy="206.11" r="0.80" fill="#ff0000"/><circle cx="354.01" cy="206.11" r="0.80" fill="#ff0000"/><circle cx="354.63" cy="208.46" r="0.80" fill="#ff0000"/><circle cx="355.24" cy="208.36" r="0.80" fill="#ff0000"/><circle cx="355.84" cy="208.36" r="0.80" fill="#ff0000"/><circle cx="356.41" cy="208.36" r="0.80" fill="#ff0000"/><circle cx="356.97" cy="208.07" r="0.80" fill="#ff0000"/><circle cx="357.51" cy="208.07" r="0.80" fill="#ff0000"/><circle cx="358.04" cy="208.07" r="0.80" fill="#ff0000"/><circle cx="358.55" cy="207.50" r="0.80" fill="#ff0000"/><circle cx="359.05" cy="207.50" r="0.80" fill="#ff0000"/><circle cx="359.54" cy="207.50" r="0.80" fill="#ff0000"/><circle cx="360.02" cy="206.84" r="0.80" fill="#ff0000"/><circle cx="360.49" cy="206.84" r="0.80" fill="#ff0000"/><circle cx="360.94" cy="206.84" r="0.80" fill="#ff0000"/><circle cx="361.39" cy="206.30" r="0.80" fill="#ff0000"/><circle cx="361.82" cy="206.30" r="0.80" fill="#ff0000"/><circle cx="362.25" cy="206.30" r="0.80" fill="#ff0000"/><circle cx="362.66" cy="206.30" r="0.80" fill="#ff0000"/><circle cx="363.07" cy="206.30" r="0.80" fill="#ff0000"/><circle cx="363.47" cy="206.30" r="0.80" fill="#ff0000"/><circle cx="363.87" cy="206.30" r="0.80" fill="#ff0000"/><circle cx="364.25" cy="206.30" r="0.80" fill="#ff0000"/><circle cx="364.63" cy="206.30" r="0.80" fill="#ff0000"/><circle cx="365.00" cy="206.30" r="0.80" fill="#ff0000"/><circle cx="365.36" cy="206.30" r="0.80" fill="#ff0000"/><circle cx="365.72" cy="206.30" r="0.80" fill="#ff0000"/><circle cx="366.07" cy="207.69" r="0.80" fill="#ff0000"/><circle cx="366.41" cy="207.69" r="0.80" fill="#ff0000"/><circle cx="366.75" cy="207.69" r="0.80" fill="#ff0000"/><circle cx="367.08" cy="208.21" r="0.80" fill="#ff0000"/><circle cx="367.41" cy="208.21" r="0.80" fill="#ff0000"/><circle cx="367.73" cy="208.21" r="0.80" fill="#ff0000"/><circle cx="368.05" cy="208.73" r="0.80" fill="#ff0000"/><circle cx="368.36" cy="208.73" r="0.80" fill="#ff0000"/><circle cx="368.67" cy="208.73" r="0.80" fill="#ff0000"/><circle cx="368.97" cy="211.02" r="0.80" fill="#ff0000"/><circle cx="369.27" cy="211.02" r="0.80" fill="#ff0000"/><circle cx="369.56" cy="211.02" r="0.80" fill="#ff0000"/><circle cx="369.85" cy="210.83" r="0.80" fill="#ff0000"/><circle cx="370.14" cy="210.83" r="0.80" fill="#ff0000"/><circle cx="370.42" cy="210.83" r="0.80" fill="#ff0000"/><circle cx="370.69" cy="210.58" r="0.80" fill="#ff0000"/><circle cx="370.97" cy="210.58" r="0.80" fill="#ff0000"/><circle cx="371.24" cy="210.58" r="0.80" fill="#ff0000"/><circle cx="371.50" cy="210.29" r="0.80" fill="#ff0000"/><circle cx="371.77" cy="210.29" r="0.80" fill="#ff0000"/><circle cx="372.02" cy="210.29" r="0.80" fill="#ff0000"/><circle cx="372.28" cy="210.00" r="0.80" fill="#ff0000"/><circle cx="372.53" cy="210.00" r="0.80" fill="#ff0000"/><circle cx="372.78" cy="210.00" r="0.80" fill="#ff0000"/><circle cx="373.03" cy="209.81" r="0.80" fill="#ff0000"/><circle cx="373.27" cy="209.81" r="0.80" fill="#ff0000"/><circle cx="373.51" cy="209.81" r="0.80" fill="#ff0000"/><circle cx="373.75" cy="209.81" r="0.80" fill="#ff0000"/><circle cx="373.98" cy="209.81" r="0.80" fill="#ff0000"/><circle cx="374.21" cy="209.81" r="0.80" fill="#ff0000"/><circle cx="374.44" cy="209.81" r="0.80" fill="#ff0000"/><circle cx="374.67" cy="209.81" r="0.80" fill="#ff0000"/><circle cx="374.89" cy="209.81" r="0.80" fill="#ff0000"/><circle cx="375.11" cy="209.81" r="0.80" fill="#ff0000"/><circle cx="375.33" cy="209.81" r="0.80" fill="#ff0000"/><circle cx="375.55" cy="209.81" r="0.80" fill="#ff0000"/><circle cx="375.76" cy="209.81" r="0.80" fill="#ff0000"/><circle cx="375.97" cy="209.81" r="0.80" fill="#ff0000"/><circle cx="376.18" cy="209.81" r="0.80" fill="#ff0000"/><circle cx="376.39" cy="210.68" r="0.80" fill="#ff0000"/><circle cx="376.60" cy="210.68" r="0.80" fill="#ff0000"/><circle cx="376.80" cy="210.68" r="0.80" fill="#ff0000"/><circle cx="377.00" cy="211.99" r="0.80" fill="#ff0000"/><circle cx="377.20" cy="211.99" r="0.80" fill="#ff0000"/><circle cx="377.40" cy="211.99" r="0.80" fill="#ff0000"/><circle cx="377.59" cy="212.67" r="0.80" fill="#ff0000"/><circle cx="377.79" cy="212.67" r="0.80" fill="#ff0000"/><circle cx="377.98" cy="212.67" r="0.80" fill="#ff0000"/><circle cx="378.17" cy="213.03" r="0.80" fill="#ff0000"/><circle cx="378.35" cy="213.03" r="0.80" fill="#ff0000"/><circle cx="378.54" cy="213.03" r="0.80" fill="#ff0000"/><circle cx="378.72" cy="213.40" r="0.80" fill="#ff0000"/><circle cx="378.91" cy="213.40" r="0.80" fill="#ff0000"/><circle cx="379.09" cy="213.40" r="0.80" fill="#ff0000"/><circle cx="379.27" cy="213.76" r="0.80" fill="#ff0000"/><circle cx="379.44" cy="217.70" r="0.80" fill="#ff0000"/><circle cx="379.62" cy="213.76" r="0.80" fill="#ff0000"/><circle cx="379.79" cy="214.23" r="0.80" fill="#ff0000"/><circle cx="379.97" cy="214.23" r="0.80" fill="#ff0000"/><circle cx="380.14" cy="214.23" r="0.80" fill="#ff0000"/><circle cx="380.31" cy="214.93" r="0.80" fill="#ff0000"/><circle cx="380.48" cy="214.93" r="0.80" fill="#ff0000"/><circle cx="380.64" cy="214.93" r="0.80" fill="#ff0000"/><circle cx="380.81" cy="215.62" r="0.80" fill="#ff0000"/><circle cx="380.98" cy="215.62" r="0.80" fill="#ff0000"/><circle cx="381.14" cy="215.62" r="0.80" fill="#ff0000"/><circle cx="381.30" cy="215.62" r="0.80" fill="#ff0000"/><circle cx="381.46" cy="215.62" r="0.80" fill="#ff0000"/><circle cx="381.62" cy="215.62" r="0.80" fill="#ff0000"/><circle cx="381.78" cy="215.62" r="0.80" fill="#ff0000"/><circle cx="381.93" cy="215.62" r="0.80" fill="#ff0000"/><circle cx="382.09" cy="215.62" r="0.80" fill="#ff0000"/><circle cx="382.24" cy="215.62" r="0.80" fill="#ff0000"/><circle cx="382.40" cy="215.62" r="0.80" fill="#ff0000"/><circle cx="382.55" cy="215.62" r="0.80" fill="#ff0000"/><circle cx="382.70" cy="215.62" r="0.80" fill="#ff0000"/><circle cx="382.85" cy="215.62" r="0.80" fill="#ff0000"/><circle cx="383.00" cy="215.62" r="0.80" fill="#ff0000"/><circle cx="383.14" cy="216.16" r="0.80" fill="#ff0000"/><circle cx="383.29" cy="216.16" r="0.80" fill="#ff0000"/><circle cx="383.43" cy="216.16" r="0.80" fill="#ff0000"/><circle cx="383.58" cy="216.97" r="0.80" fill="#ff0000"/><circle cx="383.72" cy="216.97" r="0.80" fill="#ff0000"/><circle cx="383.86" cy="216.97" r="0.80" fill="#ff0000"/><circle cx="384.00" cy="217.78" r="0.80" fill="#ff0000"/><circle cx="384.14" cy="217.78" r="0.80" fill="#ff0000"/><circle cx="384.28" cy="217.78" r="0.80" fill="#ff0000"/><circle cx="384.42" cy="218.59" r="0.80" fill="#ff0000"/><circle cx="384.56" cy="218.59" r="0.80" fill="#ff0000"/><circle cx="384.69" cy="222.32" r="0.80" fill="#ff0000"/><circle cx="384.83" cy="218.98" r="0.80" fill="#ff0000"/><circle cx="384.96" cy="218.98" r="0.80" fill="#ff0000"/><circle cx="385.10" cy="218.98" r="0.80" fill="#ff0000"/><circle cx="385.23" cy="219.17" r="0.80" fill="#ff0000"/><circle cx="385.36" cy="219.17" r="0.80" fill="#ff0000"/><circle cx="385.49" cy="219.17" r="0.80" fill="#ff0000"/><circle cx="385.62" cy="219.36" r="0.80" fill="#ff0000"/><circle cx="385.75" cy="219.36" r="0.80" fill="#ff0000"/><circle cx="385.88" cy="219.36" r="0.80" fill="#ff0000"/><circle cx="386.01" cy="219.54" r="0.80" fill="#ff0000"/><circle cx="386.13" cy="219.54" r="0.80" fill="#ff0000"/><circle cx="386.26" cy="219.54" r="0.80" fill="#ff0000"/><circle cx="386.38" cy="219.73" r="0.80" fill="#ff0000"/><circle cx="386.51" cy="219.73" r="0.80" fill="#ff0000"/><circle cx="386.63" cy="219.73" r="0.80" fill="#ff0000"/><circle cx="386.75" cy="219.93" r="0.80" fill="#ff0000"/><circle cx="386.88" cy="219.93" r="0.80" fill="#ff0000"/><circle cx="387.00" cy="219.93" r="0.80" fill="#ff0000"/><circle cx="387.12" cy="220.16" r="0.80" fill="#ff0000"/><circle cx="387.24" cy="220.16" r="0.80" fill="#ff0000"/><circle cx="387.36" cy="220.16" r="0.80" fill="#ff0000"/><circle cx="387.47" cy="220.39" r="0.80" fill="#ff0000"/>
<path d="M286.00 175.35 L299.73 175.35 L307.76 178.55 L313.45 181.63 L317.87 184.90 L321.48 188.32 L324.54 192.60 L327.18 197.87 L329.51 205.92 L331.60 211.73 L333.49 207.11 L335.21 207.30 L336.80 213.46 L338.26 220.01 L339.63 226.94 L340.91 220.78 L342.11 224.82 L343.24 221.55 L344.31 219.82 L345.33 223.86 L346.29 220.78 L347.21 218.85 L348.09 213.46 L348.94 219.62 L349.75 225.78 L350.52 220.01 L351.27 223.47 L351.99 227.94 L352.69 236.60 L353.36 239.41 L354.01 242.26 L354.63 244.53" fill="none" stroke="#bf00bf" stroke-width="0.8"/>
<circle cx="286.00" cy="175.35" r="0.80" fill="#bf00bf"/><circle cx="299.73" cy="175.35" r="0.80" fill="#bf00bf"/><circle cx="307.76" cy="178.55" r="0.80" fill="#bf00bf"/><circle cx="313.45" cy="181.63" r="0.80" fill="#bf00bf"/><circle cx="317.87" cy="184.90" r="0.80" fill="#bf00bf"/><circle cx="321.48" cy="188.32" r="0.80" fill="#bf00bf"/><circle cx="324.54" cy="192.60" r="0.80" fill="#bf00bf"/><circle cx="327.18" cy="197.87" r="0.80" fill="#bf00bf"/><circle cx="329.51" cy="205.92" r="0.80" fill="#bf00bf"/><circle cx="331.60" cy="211.73" r="0.80" fill="#bf00bf"/><circle cx="333.49" cy="207.11" r="0.80" fill="#bf00bf"/><circle cx="335.21" cy="207.30" r="0.80" fill="#bf00bf"/><circle cx="336.80" cy="213.46" r="0.80" fill="#bf00bf"/><circle cx="338.26" cy="220.01" r="0.80" fill="#bf00bf"/><circle cx="339.63" cy="226.94" r="0.80" fill="#bf00bf"/><circle cx="340.91" cy="220.78" r="0.80" fill="#bf00bf"/><circle cx="342.11" cy="224.82" r="0.80" fill="#bf00bf"/><circle cx="343.24" cy="221.55" r="0.80" fill="#bf00bf"/><circle cx="344.31" cy="219.82" r="0.80" fill="#bf00bf"/><circle cx="345.33" cy="223.86" r="0.80" fill="#bf00bf"/><circle cx="346.29" cy="220.78" r="0.80" fill="#bf00bf"/><circle cx="347.21" cy="218.85" r="0.80" fill="#bf00bf"/><circle cx="348.09" cy="213.46" r="0.80" fill="#bf00bf"/><circle cx="348.94" cy="219.62" r="0.80" fill="#bf00bf"/><circle cx="349.75" cy="225.78" r="0.80" fill="#bf00bf"/><circle cx="350.52" cy="220.01" r="0.80" fill="#bf00bf"/><circle cx="351.27" cy="223.47" r="0.80" fill="#bf00bf"/><circle cx="351.99" cy="227.94" r="0.80" fill="#bf00bf"/><circle cx="352.69" cy="236.60" r="0.80" fill="#bf00bf"/><circle cx="353.36" cy="239.41" r="0.80" fill="#bf00bf"/><circle cx="354.01" cy="242.26" r="0.80" fill="#bf00bf"/><circle cx="354.63" cy="244.53" r="0.80" fill="#bf00bf"/>
</g>
<rect x="285.90" y="171.50" width="105.00" height="76.70" fill="none" stroke="#3c3c3c" stroke-width="1.2"/>
<line x1="282.60" y1="179.20" x2="285.90" y2="179.20" stroke="#000" stroke-width="0.9"/>
<text x="278.8" y="181.30" text-anchor="end" class="i">5</text>
<line x1="282.60" y1="198.45" x2="285.90" y2="198.45" stroke="#000" stroke-width="0.9"/>
<text x="278.8" y="200.55" text-anchor="end" class="i">0</text>
<line x1="282.60" y1="217.70" x2="285.90" y2="217.70" stroke="#000" stroke-width="0.9"/>
<text x="278.8" y="219.80" text-anchor="end" class="i">−5</text>
<line x1="282.60" y1="236.95" x2="285.90" y2="236.95" stroke="#000" stroke-width="0.9"/>
<text x="278.8" y="239.05" text-anchor="end" class="i">−10</text>
<line x1="286.00" y1="248.20" x2="286.00" y2="251.20" stroke="#000" stroke-width="0.9"/>
<text x="285.80" y="261.0" text-anchor="middle" class="i">10<tspan font-size="4.3" dy="-2.4">0</tspan></text>
<line x1="299.73" y1="248.20" x2="299.73" y2="250.00" stroke="#000" stroke-width="0.9"/>
<line x1="307.76" y1="248.20" x2="307.76" y2="250.00" stroke="#000" stroke-width="0.9"/>
<line x1="313.45" y1="248.20" x2="313.45" y2="250.00" stroke="#000" stroke-width="0.9"/>
<line x1="317.87" y1="248.20" x2="317.87" y2="250.00" stroke="#000" stroke-width="0.9"/>
<line x1="321.48" y1="248.20" x2="321.48" y2="250.00" stroke="#000" stroke-width="0.9"/>
<line x1="324.54" y1="248.20" x2="324.54" y2="250.00" stroke="#000" stroke-width="0.9"/>
<line x1="327.18" y1="248.20" x2="327.18" y2="250.00" stroke="#000" stroke-width="0.9"/>
<line x1="329.51" y1="248.20" x2="329.51" y2="250.00" stroke="#000" stroke-width="0.9"/>
<line x1="331.60" y1="248.20" x2="331.60" y2="251.20" stroke="#000" stroke-width="0.9"/>
<text x="331.40" y="261.0" text-anchor="middle" class="i">10<tspan font-size="4.3" dy="-2.4">1</tspan></text>
<line x1="345.33" y1="248.20" x2="345.33" y2="250.00" stroke="#000" stroke-width="0.9"/>
<line x1="353.36" y1="248.20" x2="353.36" y2="250.00" stroke="#000" stroke-width="0.9"/>
<line x1="359.05" y1="248.20" x2="359.05" y2="250.00" stroke="#000" stroke-width="0.9"/>
<line x1="363.47" y1="248.20" x2="363.47" y2="250.00" stroke="#000" stroke-width="0.9"/>
<line x1="367.08" y1="248.20" x2="367.08" y2="250.00" stroke="#000" stroke-width="0.9"/>
<line x1="370.14" y1="248.20" x2="370.14" y2="250.00" stroke="#000" stroke-width="0.9"/>
<line x1="372.78" y1="248.20" x2="372.78" y2="250.00" stroke="#000" stroke-width="0.9"/>
<line x1="375.11" y1="248.20" x2="375.11" y2="250.00" stroke="#000" stroke-width="0.9"/>
<line x1="377.20" y1="248.20" x2="377.20" y2="251.20" stroke="#000" stroke-width="0.9"/>
<text x="377.00" y="261.0" text-anchor="middle" class="i">10<tspan font-size="4.3" dy="-2.4">2</tspan></text>
</svg>
</body></html>
